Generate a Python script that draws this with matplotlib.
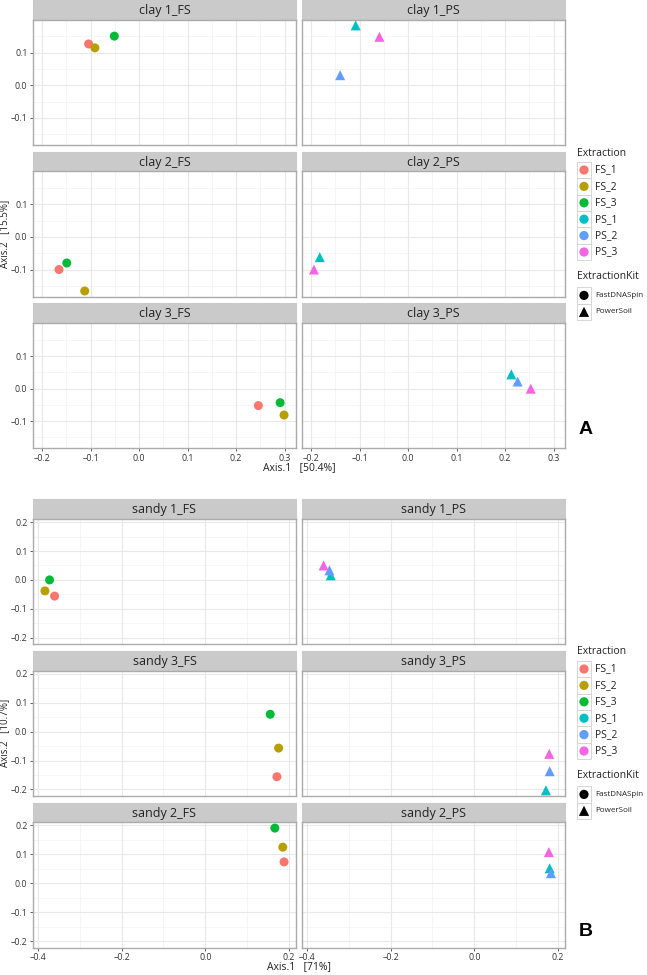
import matplotlib
matplotlib.use("Agg")
import matplotlib.pyplot as plt
from matplotlib.patches import Rectangle
import numpy as np

plt.rcParams['font.family'] = ['Open Sans', 'DejaVu Sans']

# ---------------- data ----------------
extraction_levels = ["FS_1", "FS_2", "FS_3", "PS_1", "PS_2", "PS_3"]
extraction_colors = ["#F8766D", "#B79F00", "#00BA38", "#00BFC4", "#619CFF", "#F564E3"]
kit_levels = ["FastDNASpin", "PowerSoil"]
kit_markers = ["o", "^"]

clay_facets = ["clay 1_FS", "clay 1_PS", "clay 2_FS", "clay 2_PS", "clay 3_FS", "clay 3_PS"]
clay_facet = ["clay 1_FS"] * 3 + ["clay 1_PS"] * 3 + ["clay 2_FS"] * 3 + ["clay 2_PS"] * 2 + \
             ["clay 3_FS"] * 3 + ["clay 3_PS"] * 3
clay_extraction = ["FS_1", "FS_2", "FS_3", "PS_1", "PS_2", "PS_3",
                   "FS_1", "FS_2", "FS_3", "PS_1", "PS_3",
                   "FS_1", "FS_2", "FS_3", "PS_1", "PS_2", "PS_3"]
clay_axis1 = [-0.104, -0.091, -0.051, -0.108, -0.140, -0.059,
              -0.165, -0.112, -0.149, -0.182, -0.194,
              0.246, 0.299, 0.291, 0.213, 0.226, 0.253]
clay_axis2 = [0.127, 0.115, 0.151, 0.184, 0.031, 0.149,
              -0.100, -0.166, -0.080, -0.062, -0.100,
              -0.052, -0.081, -0.043, 0.044, 0.022, 0.000]

sandy_facets = ["sandy 1_FS", "sandy 1_PS", "sandy 3_FS", "sandy 3_PS", "sandy 2_FS", "sandy 2_PS"]
sandy_facet = ["sandy 1_FS"] * 3 + ["sandy 1_PS"] * 3 + ["sandy 3_FS"] * 3 + ["sandy 3_PS"] * 3 + \
              ["sandy 2_FS"] * 3 + ["sandy 2_PS"] * 3
sandy_extraction = ["FS_1", "FS_2", "FS_3", "PS_1", "PS_2", "PS_3"] * 3
sandy_axis1 = [-0.360, -0.383, -0.372, -0.343, -0.346, -0.360,
               0.171, 0.175, 0.155, 0.171, 0.180, 0.179,
               0.188, 0.185, 0.166, 0.180, 0.183, 0.178]
sandy_axis2 = [-0.056, -0.038, 0.000, 0.016, 0.033, 0.050,
               -0.156, -0.057, 0.060, -0.203, -0.137, -0.077,
               0.074, 0.125, 0.191, 0.052, 0.035, 0.108]

clay_xticks = [-0.2, -0.1, 0.0, 0.1, 0.2, 0.3]
clay_yticks = [-0.1, 0.0, 0.1]
sandy_xticks = [-0.4, -0.2, 0.0, 0.2]
sandy_yticks = [-0.2, -0.1, 0.0, 0.1, 0.2]

# ---------------- layout ----------------
W, H = 647, 975
fig = plt.figure(figsize=(W / 100, H / 100), dpi=100)
fig.patch.set_facecolor("white")


def add_px_axes(x0, y0, x1, y1, **kw):
    return fig.add_axes([x0 / W, 1 - y1 / H, (x1 - x0) / W, (y1 - y0) / H], **kw)


def expand(vals):
    lo, hi = min(vals), max(vals)
    r = hi - lo
    return lo - 0.05 * r, hi + 0.05 * r


def fmt(v):
    s = f"{v:.1f}"
    if s == "-0.0":
        s = "0.0"
    return s.replace("-", "\u2013")


STRIP_C = "#CACACA"
BORDER_C = "#ABABAB"
GRID_MAJ = "#E8E8E8"
GRID_MIN = "#F4F4F4"
TXT_C = "#222222"


def draw_block(facets, fac, ext, xs, ys, xticks, yticks, top, xlabel, ylabel, letter, letter_y):
    cols = [(33, 296), (302, 565)]
    row_step = 151.7
    strip_h = 19.7
    panel_h = 125.3
    xlim = expand(xs)
    ylim = expand(ys)
    dx = xticks[1] - xticks[0]
    dy = yticks[1] - yticks[0]
    xminor = [xticks[0] - dx / 2] + [v + dx / 2 for v in xticks]
    yminor = [yticks[0] - dy / 2] + [v + dy / 2 for v in yticks]
    for i, fname in enumerate(facets):
        r, c = divmod(i, 2)
        x0, x1 = cols[c]
        st = top + r * row_step
        # strip
        sax = add_px_axes(x0, st, x1, st + strip_h)
        sax.set_facecolor(STRIP_C)
        sax.set_xticks([]); sax.set_yticks([])
        for sp in sax.spines.values():
            sp.set_color(STRIP_C)
        sax.text(0.5, 0.47, fname, ha="center", va="center", fontsize=9, color=TXT_C,
                 transform=sax.transAxes)
        # panel
        ax = add_px_axes(x0, st + strip_h, x1, st + strip_h + panel_h)
        ax.set_xlim(*xlim); ax.set_ylim(*ylim)
        for v in xminor:
            ax.axvline(v, color=GRID_MIN, lw=0.6, zorder=0)
        for v in yminor:
            ax.axhline(v, color=GRID_MIN, lw=0.6, zorder=0)
        for v in xticks:
            ax.axvline(v, color=GRID_MAJ, lw=0.8, zorder=0)
        for v in yticks:
            ax.axhline(v, color=GRID_MAJ, lw=0.8, zorder=0)
        for sp in ax.spines.values():
            sp.set_color(BORDER_C); sp.set_linewidth(1.0)
        ax.set_xticks(xticks); ax.set_yticks(yticks)
        ax.tick_params(length=2.5, width=0.6, color="#444444", labelsize=6.3, labelcolor="#333333", pad=1.5)
        if c == 0:
            ax.set_yticklabels([fmt(v) for v in yticks])
        else:
            ax.tick_params(axis="y", length=0, labelleft=False)
        if r == 2:
            ax.set_xticklabels([fmt(v) for v in xticks])
        else:
            ax.tick_params(axis="x", length=0, labelbottom=False)
        for e, col in zip(extraction_levels, extraction_colors):
            px = [x for f, ee, x in zip(fac, ext, xs) if f == fname and ee == e]
            py = [y for f, ee, y in zip(fac, ext, ys) if f == fname and ee == e]
            if not px:
                continue
            mk = "o" if e.startswith("FS") else "^"
            ax.scatter(px, py, s=42 if mk == "o" else 52, marker=mk, color=col,
                       edgecolors="none", zorder=3, clip_on=False)
    bottom = top + 2 * row_step + strip_h + panel_h
    fig.text(((33 + 565) / 2) / W, 1 - (bottom + 19) / H, xlabel, ha="center", va="center",
             fontsize=7.5, color=TXT_C)
    fig.text(4.5 / W, 1 - (top + 1.5 * row_step + 6) / H, ylabel, ha="center", va="center",
             rotation=90, fontsize=7, color=TXT_C)
    fig.text(586 / W, 1 - letter_y / H, letter, ha="center", va="center", fontsize=14,
             fontweight="bold", family=["Liberation Sans", "DejaVu Sans"], color="black")


def draw_legend(title_y):
    lax = add_px_axes(570, 0, 647, H)
    lax.set_xlim(570, 647); lax.set_ylim(H, 0)
    lax.axis("off")
    lax.text(577, title_y, "Extraction", fontsize=7.5, va="center", ha="left", color=TXT_C)
    step = 16.4
    for k, (e, col) in enumerate(zip(extraction_levels, extraction_colors)):
        cy = title_y + 17 + k * step
        lax.add_patch(Rectangle((577, cy - step / 2), 14, step, facecolor="white",
                                edgecolor="#D0D0D0", lw=0.6))
        lax.scatter([584], [cy], s=44, marker="o", color=col, edgecolors="none")
        lax.text(595, cy, e, fontsize=7.5, va="center", ha="left", color=TXT_C)
    ky = title_y + 17 + 6 * step + 8
    lax.text(577, ky, "ExtractionKit", fontsize=7.5, va="center", ha="left", color=TXT_C)
    for k, (kit, mk) in enumerate(zip(kit_levels, kit_markers)):
        cy = ky + 19 + k * step
        lax.add_patch(Rectangle((577, cy - step / 2), 14, step, facecolor="white",
                                edgecolor="#D0D0D0", lw=0.6))
        lax.scatter([584], [cy], s=44 if mk == "o" else 54, marker=mk, color="black", edgecolors="none")
        lax.text(595, cy, kit, fontsize=5.8, va="center", ha="left", color=TXT_C)


draw_block(clay_facets, clay_facet, clay_extraction, clay_axis1, clay_axis2,
           clay_xticks, clay_yticks, 0.0, "Axis.1   [50.4%]", "Axis.2   [15.5%]", "A", 430)
draw_block(sandy_facets, sandy_facet, sandy_extraction, sandy_axis1, sandy_axis2,
           sandy_xticks, sandy_yticks, 499.3, "Axis.1   [71%]", "Axis.2   [10.7%]", "B", 932)
draw_legend(153)
draw_legend(652)

fig.savefig("out.png", dpi=100, facecolor="white")
